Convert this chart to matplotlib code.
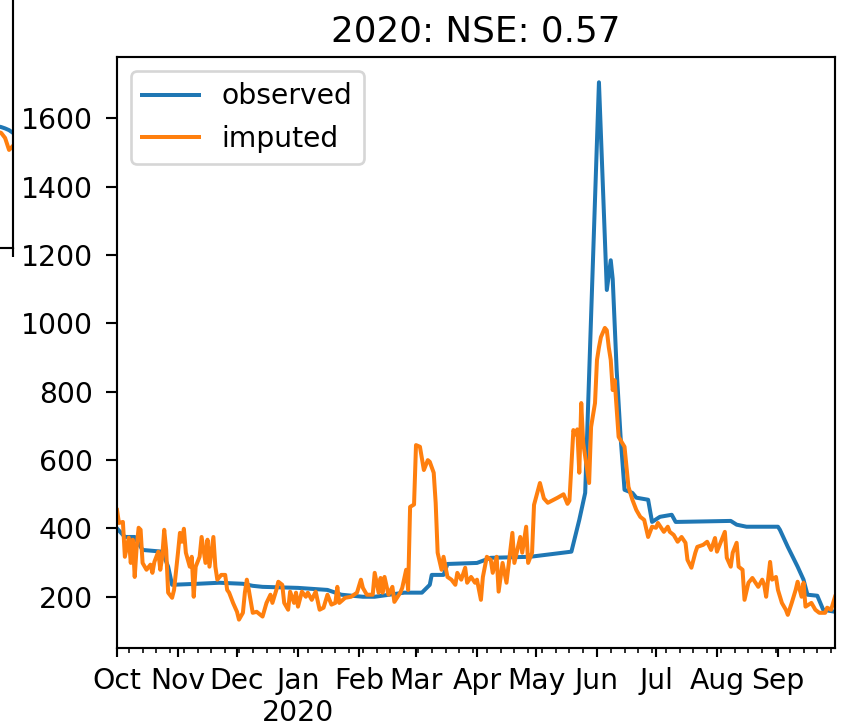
import numpy as np
import pandas as pd
import matplotlib
matplotlib.use("Agg")
from matplotlib import pyplot as plt
import matplotlib.dates as mdates
from matplotlib.ticker import FuncFormatter

# water year 2020 starts here, all days are offsets from it
start = pd.Timestamp("2019-10-01")
end = pd.Timestamp("2020-09-30")

# observed flow (day offset, value)
obs_day = [0, 4, 9, 13, 23, 26, 28, 41, 52, 64, 69, 74, 92, 107, 114, 125, 131,
           146, 155, 159, 160, 166, 168, 183, 190, 210, 231, 235, 238, 245, 249,
           251, 252, 254, 256, 258, 262, 264, 270, 272, 276, 282, 284, 312, 315,
           320, 336, 337, 341, 346, 349, 351, 356, 359, 365]
obs_val = [400, 375, 375, 337, 332, 288, 235, 238, 241, 238, 232, 229, 226, 220,
           206, 200, 200, 212, 212, 235, 264, 264, 296, 299, 314, 317, 332, 425,
           504, 1706, 1098, 1185, 1130, 864, 668, 513, 504, 490, 484, 419, 434,
           440, 419, 422, 411, 405, 405, 396, 346, 288, 250, 206, 203, 162, 156]

# imputed flow (day offset, value)
imp_day = [0, 1, 3, 4, 6, 7, 8, 9, 10, 11, 12, 13, 15, 17, 18, 19, 21, 22, 23,
           24, 25, 26, 28, 29, 31, 32, 33, 34, 35, 37, 38, 39, 40, 42, 43, 45,
           46, 47, 49, 50, 51, 53, 55, 56, 57, 59, 61, 62, 64, 65, 66, 67, 69,
           71, 74, 76, 78, 79, 81, 82, 84, 85, 87, 88, 90, 91, 92, 94, 96, 97,
           99, 101, 103, 105, 107, 109, 111, 112, 113, 116, 119, 122, 124, 125,
           127, 130, 131, 133, 134, 135, 136, 138, 140, 141, 144, 145, 147, 148,
           149, 151, 152, 154, 156, 158, 159, 161, 162, 163, 165, 166, 168, 170,
           172, 173, 175, 177, 178, 180, 182, 183, 185, 186, 188, 190, 191, 193,
           194, 196, 198, 201, 202, 205, 206, 208, 209, 211, 212, 213, 215, 217,
           219, 222, 224, 227, 229, 230, 232, 233, 234, 235, 236, 237, 239, 240,
           241, 243, 244, 245, 246, 248, 249, 250, 251, 252, 253, 255, 258, 260,
           262, 264, 266, 268, 270, 272, 274, 275, 278, 280, 281, 283, 285, 287,
           289, 290, 292, 294, 295, 298, 300, 302, 304, 305, 308, 309, 310, 312,
           313, 315, 316, 318, 319, 321, 323, 326, 328, 329, 330, 331, 332, 333,
           335, 336, 338, 340, 341, 343, 345, 346, 348, 349, 350, 353, 355, 357,
           360, 361, 363, 365]
imp_val = [454, 416, 419, 317, 373, 299, 367, 258, 346, 402, 396, 299, 279, 294,
           270, 302, 332, 279, 317, 396, 337, 212, 197, 220, 329, 387, 361, 399,
           329, 288, 317, 200, 288, 317, 375, 299, 367, 288, 375, 288, 250, 264,
           264, 220, 212, 182, 156, 133, 153, 212, 250, 220, 153, 156, 142, 182,
           206, 182, 220, 244, 235, 182, 162, 215, 182, 212, 171, 215, 200, 212,
           191, 215, 162, 168, 206, 177, 182, 229, 182, 197, 200, 212, 250, 226,
           206, 206, 270, 212, 255, 212, 258, 206, 229, 185, 212, 226, 279, 220,
           463, 470, 644, 639, 571, 600, 595, 563, 475, 329, 279, 317, 258, 250,
           235, 270, 250, 285, 241, 258, 241, 250, 191, 258, 317, 308, 270, 317,
           215, 299, 241, 387, 299, 375, 329, 405, 299, 329, 469, 490, 533, 488,
           475, 484, 490, 500, 472, 481, 688, 675, 690, 563, 767, 650, 571, 533,
           697, 767, 893, 930, 960, 987, 980, 930, 893, 805, 834, 668, 639, 522,
           484, 454, 434, 425, 375, 405, 402, 416, 390, 405, 390, 381, 361, 375,
           358, 308, 285, 329, 346, 352, 361, 337, 372, 332, 375, 390, 314, 288,
           329, 358, 288, 279, 191, 241, 255, 229, 250, 235, 200, 250, 302, 250,
           258, 220, 182, 162, 147, 182, 220, 244, 200, 241, 171, 182, 162, 153,
           153, 168, 162, 200]

# tail of the previous water year panel (only a sliver shows)
prev_start = pd.Timestamp("2018-10-01")
prev_day = [350, 355, 358, 360, 362, 364]
prev_obs = [412, 408, 404, 400, 395, 387]
prev_imp = [400, 392, 387, 372, 337, 349]

title = "2020: NSE: 0.57"

obs_dates = start + pd.to_timedelta(obs_day, unit="D")
imp_dates = start + pd.to_timedelta(imp_day, unit="D")
prev_dates = prev_start + pd.to_timedelta(prev_day, unit="D")


def month_fmt(x, pos):
    d = mdates.num2date(x)
    if d.month == 1:
        return d.strftime("%b\n%Y")
    return d.strftime("%b")


plt.rcParams["font.size"] = 10.6

# 1. figure
fig = plt.figure(figsize=(843 / 192, 727 / 192), dpi=192)
W, H = 843.0, 727.0

# 2. neighbour panel, cut off at the left edge
ax0 = fig.add_axes([(13 - 718) / W, 1 - 248 / H, 718 / W, 591 / H])
ax0.plot(prev_dates, prev_obs, color="C0", lw=1.5)
ax0.plot(prev_dates, prev_imp, color="C1", lw=1.5)
ax0.set_xlim(prev_start, pd.Timestamp("2019-09-30"))
ax0.set_ylim(50, 1780)
ax0.set_xticks([mdates.date2num(pd.Timestamp("2019-09-30"))])
ax0.set_xticklabels([])
ax0.set_yticklabels([])

# 3. main panel
ax = fig.add_axes([117 / W, 1 - 648 / H, 718 / W, 591 / H])
ax.plot(obs_dates, obs_val, color="C0", lw=1.5, label="observed")
ax.plot(imp_dates, imp_val, color="C1", lw=1.5, label="imputed")
ax.set_xlim(start, end)
ax.set_ylim(50, 1780)
ax.set_yticks([200, 400, 600, 800, 1000, 1200, 1400, 1600])
ax.tick_params(axis="y", pad=5)
ax.tick_params(axis="y", which="major", length=4)

# 4. date ticks like pandas
ax.xaxis.set_major_locator(mdates.MonthLocator())
ax.xaxis.set_major_formatter(FuncFormatter(month_fmt))
ax.xaxis.set_minor_locator(mdates.WeekdayLocator(byweekday=mdates.MO))
for lab in ax.get_xticklabels():
    lab.set_horizontalalignment("center")

# 5. title and legend
ax.set_title(title, fontsize=13.4)
ax.legend(loc="upper left")

fig.savefig("out.png", dpi=192)
